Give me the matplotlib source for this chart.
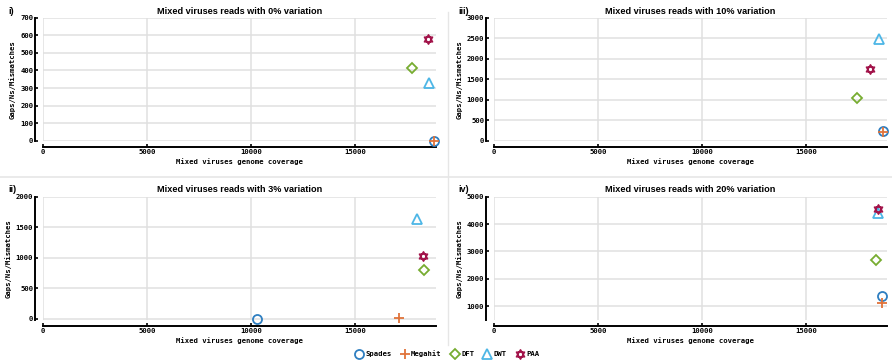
import matplotlib
matplotlib.use("Agg")
import matplotlib.pyplot as plt
from matplotlib.path import Path
from matplotlib.lines import Line2D
import numpy as np

W, H = 892, 360
DPI = 100

methods = ["Spades", "Megahit", "DFT", "DWT", "PAA"]
colors = ["#2f7fc1", "#e0733a", "#77ac30", "#4db6e6", "#a2144a"]

titles = ["Mixed viruses reads with 0% variation",
          "Mixed viruses reads with 3% variation",
          "Mixed viruses reads with 10% variation",
          "Mixed viruses reads with 20% variation"]
panel_labels = ["i)", "ii)", "iii)", "iv)"]

# coverage (x) and gaps/Ns/mismatches (y) per method, per panel
cov_0 = [18780, 18780, 17750, 18550, 18520]
err_0 = [0, 0, 411, 330, 579]
cov_3 = [10270, 17140, 18325, 17970, 18260]
err_3 = [0, 15, 798, 1634, 1033]
cov_10 = [18730, 18730, 17475, 18535, 18070]
err_10 = [236, 205, 1049, 2480, 1745]
cov_20 = [18670, 18670, 18390, 18460, 18460]
err_20 = [1364, 1121, 2673, 4418, 4553]

yticks_0 = [0, 100, 200, 300, 400, 500, 600, 700]
yticks_3 = [0, 500, 1000, 1500, 2000]
yticks_10 = [0, 500, 1000, 1500, 2000, 2500, 3000]
yticks_20 = [1000, 2000, 3000, 4000, 5000]
xticks = [0, 5000, 10000, 15000]

# hexagram marker (star of David)
ang_up = np.deg2rad([90, 210, 330])
ang_dn = np.deg2rad([270, 30, 150])
verts = ([(np.cos(a), np.sin(a)) for a in ang_up] + [(0, 0)] +
         [(np.cos(a), np.sin(a)) for a in ang_dn] + [(0, 0)])
codes = [Path.MOVETO, Path.LINETO, Path.LINETO, Path.CLOSEPOLY] * 2
hexagram = Path(verts, codes)
markers = ["o", "+", "D", "^", hexagram]
msizes = [6.5, 7.5, 5.2, 7.5, 6.8]
mews = [1.3, 1.3, 1.3, 1.3, 1.1]

fig = plt.figure(figsize=(W / DPI, H / DPI), dpi=DPI)
fig.patch.set_facecolor("white")

def rect(l, r, t, b):
    return [l / W, 1 - b / H, (r - l) / W, (b - t) / H]

panels = [
    (rect(43, 436, 17.5, 141), cov_0, err_0, yticks_0, (0, 700), 0, (8, 12), (239.5, 11)),
    (rect(43, 436, 196.7, 320), cov_3, err_3, yticks_3, (-21, 2000), 1, (8, 190), (239.5, 190)),
    (rect(494, 887, 17.5, 141), cov_10, err_10, yticks_10, (-10, 3000), 2, (458, 12), (690, 11)),
    (rect(494, 887, 196.7, 320), cov_20, err_20, yticks_20, (500, 5000), 3, (458, 190), (690, 190)),
]

mono = {"family": "DejaVu Sans Mono", "weight": "bold", "size": 5.2}

for pos, xs, ys, yt, ylim, idx, lab_xy, tit_xy in panels:
    ax = fig.add_axes(pos)
    ax.set_xlim(0, 18900)
    ax.set_ylim(*ylim)
    ax.set_xticks(xticks)
    ax.set_yticks(yt)
    ax.grid(True, color="#e0e0e0", linewidth=1.1)
    ax.set_axisbelow(True)
    for s in ["top", "right"]:
        ax.spines[s].set_visible(False)
    ax.spines["left"].set_position(("outward", 5.5))
    ax.spines["bottom"].set_position(("outward", 4.5))
    for s in ["left", "bottom"]:
        ax.spines[s].set_linewidth(1.4)
    ax.tick_params(direction="in", length=2.5, width=1.2, pad=1.5)
    for t in ax.get_xticklabels() + ax.get_yticklabels():
        t.set_fontproperties(matplotlib.font_manager.FontProperties(**mono))
    ax.set_xlabel("Mixed viruses genome coverage", fontdict=mono, labelpad=2)
    ax.set_ylabel("Gaps/Ns/Mismatches", fontdict=mono, labelpad=3)
    for i in range(len(methods)):
        ax.plot([xs[i]], [ys[i]], linestyle="none", marker=markers[i],
                markersize=msizes[i], markerfacecolor="none",
                markeredgecolor=colors[i], markeredgewidth=mews[i], clip_on=False,
                zorder=3)
    fig.text(tit_xy[0] / W, 1 - tit_xy[1] / H, titles[idx], ha="center", va="center",
             family="Liberation Sans", weight="bold", fontsize=6.6)
    fig.text(lab_xy[0] / W, 1 - lab_xy[1] / H, panel_labels[idx], ha="left", va="center",
             family="Liberation Sans", weight="bold", fontsize=6.5)

# separators
fig.add_artist(Line2D([447.5 / W, 447.5 / W], [1 - 12 / H, 1 - 345 / H],
                      color="#e6e6e6", linewidth=1.0))
fig.add_artist(Line2D([0, 1], [1 - 177 / H, 1 - 177 / H], color="#e6e6e6", linewidth=1.2))

handles = [Line2D([], [], linestyle="none", marker=markers[i], markersize=msizes[i],
                  markerfacecolor="none", markeredgecolor=colors[i], markeredgewidth=mews[i])
           for i in range(len(methods))]
fig.legend(handles, methods, loc="center", bbox_to_anchor=(447 / W, 1 - 354 / H),
           ncol=5, frameon=False, prop={"family": "DejaVu Sans Mono", "weight": "bold", "size": 5.2},
           handletextpad=0.3, columnspacing=1.2, handlelength=1.2)

fig.savefig("out.png", dpi=DPI)
